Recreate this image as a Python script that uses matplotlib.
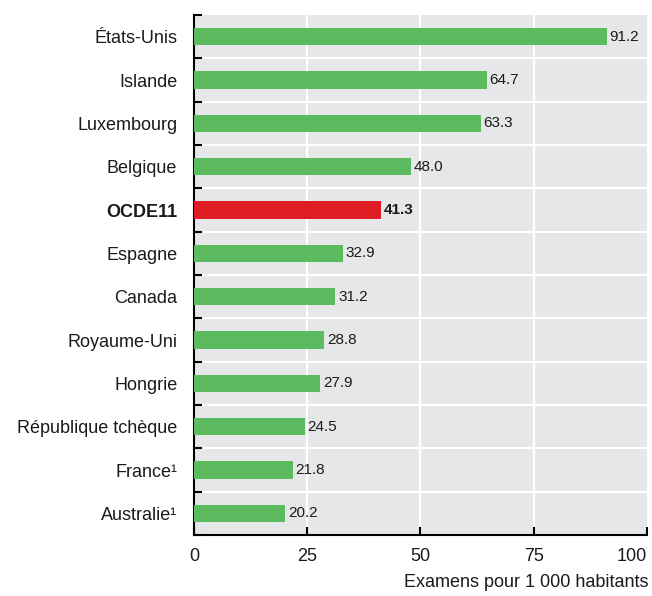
import numpy as np
import matplotlib.pyplot as plt

pays = ["États-Unis", "Islande", "Luxembourg", "Belgique", "OCDE11", "Espagne",
        "Canada", "Royaume-Uni", "Hongrie", "République tchèque", "France¹", "Australie¹"]
valeurs = [91.2, 64.7, 63.3, 48.0, 41.3, 32.9, 31.2, 28.8, 27.9, 24.5, 21.8, 20.2]
couleurs = ["#5BBB5E" if p != "OCDE11" else "#DF1B23" for p in pays]
graduations = [0, 25, 50, 75, 100]

plt.rcParams['font.family'] = ['Liberation Sans', 'DejaVu Sans']

fig = plt.figure(figsize=(6.52, 5.96), dpi=100)
ax = fig.add_axes([0.2975, 0.1023, 0.6945, 0.8725])
ax.set_facecolor("#E6E7E8")

y = np.arange(len(pays))
ax.barh(y, valeurs, height=0.4, color=couleurs, zorder=3)
for yi, v, p in zip(y, valeurs, pays):
    ax.text(v + 0.6, yi, f"{v:.1f}", va="center", ha="left", fontsize=11, color="#1a1a1a",
            fontweight="bold" if p == "OCDE11" else "normal", zorder=4)

ax.set_xlim(0, 100)
ax.set_ylim(len(pays) - 0.5, -0.5)
ax.set_xticks(graduations)
ax.set_xticklabels([str(g) for g in graduations])
ax.get_xticklabels()[-1].set_horizontalalignment("right")
ax.get_xticklabels()[-1].set_x(100.3)
ax.set_yticks(y)
ax.set_yticklabels(pays, fontsize=13, color="#1a1a1a")
for lab in ax.get_yticklabels():
    if lab.get_text() == "OCDE11":
        lab.set_fontweight("bold")
ax.set_yticks(np.arange(-0.5, len(pays), 1), minor=True)

for x in [25, 50, 75]:
    ax.axvline(x, color="white", lw=1.5, zorder=1)
for b in np.arange(0.5, len(pays) - 1, 1):
    ax.axhline(b, color="white", lw=1.5, zorder=1)

ax.tick_params(axis="y", which="major", length=0, pad=12)
ax.tick_params(axis="y", which="minor", direction="in", length=6, width=1.5)
ax.tick_params(axis="x", direction="in", length=6, width=1.5, labelsize=13, pad=9,
               labelcolor="#1a1a1a")

for s in ["top", "right"]:
    ax.spines[s].set_visible(False)
for s in ["left", "bottom"]:
    ax.spines[s].set_linewidth(1.5)

fig.text(0.994, 0.008, "Examens pour 1 000 habitants", ha="right", va="bottom",
         fontsize=13, color="#1a1a1a")

fig.savefig("out.png", dpi=100)
